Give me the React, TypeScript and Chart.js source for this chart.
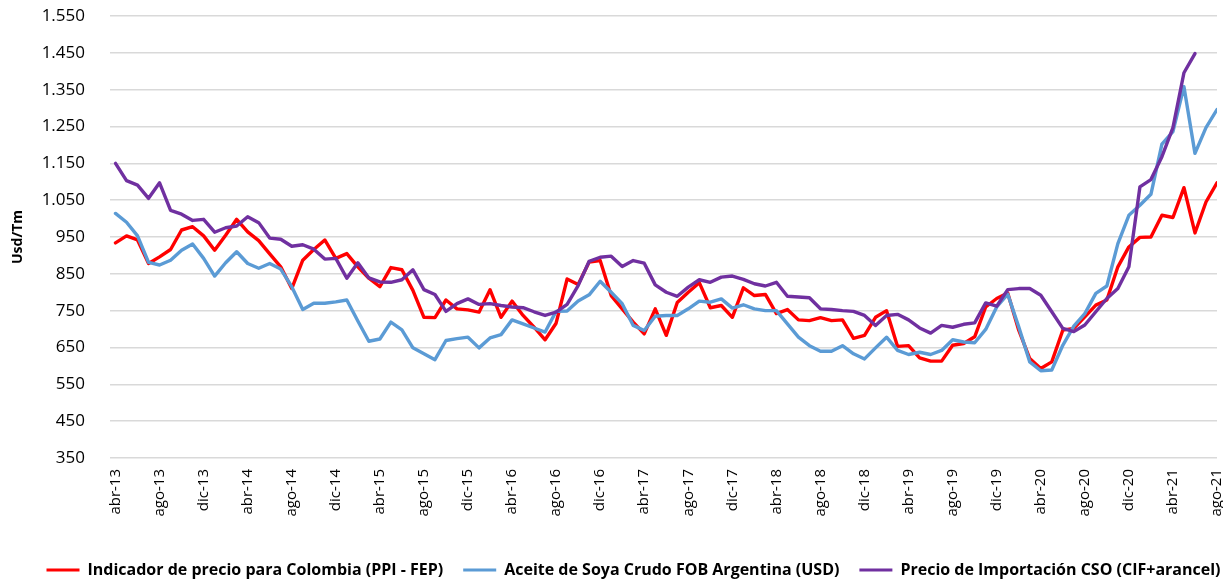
import React, { useEffect, useRef } from 'react';
import { Chart, registerables } from 'chart.js';

Chart.register(...registerables);

// ---- Categories (months abr-13 .. ago-21) ----
const MONTH_NAMES = ['ene', 'feb', 'mar', 'abr', 'may', 'jun', 'jul', 'ago', 'sep', 'oct', 'nov', 'dic'];
const START_YEAR = 2013;
const START_MONTH_INDEX = 3; // abr
const MONTH_COUNT = 101;
const monthLabels: string[] = [];
for (let k = 0; k < MONTH_COUNT; k++) {
  const m = (START_MONTH_INDEX + k) % 12;
  const y = START_YEAR + Math.floor((START_MONTH_INDEX + k) / 12);
  monthLabels.push(`${MONTH_NAMES[m]}-${String(y % 100).padStart(2, '0')}`);
}
// x tick labels shown every 4 months
const xTickIndices = [0, 4, 8, 12, 16, 20, 24, 28, 32, 36, 40, 44, 48, 52, 56, 60, 64, 68, 72, 76, 80, 84, 88, 92, 96, 100];

// ---- Y axis ticks ----
const Y_MIN = 350;
const Y_MAX = 1550;
const Y_STEP = 100;

// ---- Series values (Usd/Tm) ----
const ppiFep = [
  934, 953, 942, 878, 896, 916, 969, 978, 953, 914, 955, 998, 964, 940, 904, 869, 810, 887, 916, 942,
  892, 905, 869, 838, 815, 867, 861, 805, 732, 731, 779, 755, 752, 746, 807, 732, 776, 737, 705, 671,
  716, 836, 821, 882, 886, 791, 755, 719, 687, 755, 683, 772, 800, 826, 758, 764, 732, 812, 791, 794,
  742, 753, 725, 723, 731, 723, 725, 675, 683, 732, 750, 653, 655, 622, 613, 613, 656, 661, 679, 760,
  783, 798, 697, 620, 593, 611, 697, 702, 733, 765, 779, 869, 923, 949, 950, 1009, 1003, 1084, 961, 1045,
  1097,
];

const fobArgentina = [
  1014, 990, 953, 881, 874, 887, 914, 931, 892, 844, 880, 910, 878, 865, 878, 863, 815, 753, 770, 770,
  774, 779, 722, 667, 673, 719, 698, 649, 633, 617, 669, 674, 678, 649, 676, 685, 725, 714, 703, 692,
  748, 749, 776, 793, 830, 800, 769, 710, 696, 735, 737, 737, 755, 776, 773, 782, 757, 766, 755, 750,
  750, 714, 678, 655, 640, 640, 655, 633, 619, 649, 678, 642, 631, 637, 631, 642, 671, 665, 663, 699,
  760, 795, 706, 611, 587, 589, 656, 708, 742, 797, 817, 932, 1009, 1036, 1066, 1202, 1236, 1358, 1177, 1247,
  1296,
];

const importacionCso = [
  1150, 1103, 1091, 1055, 1097, 1022, 1012, 995, 998, 963, 975, 980, 1005, 989, 947, 944, 925, 929, 917, 890,
  892, 838, 880, 839, 828, 827, 834, 861, 807, 794, 748, 769, 782, 767, 769, 764, 760, 758, 747, 737,
  746, 767, 818, 884, 895, 898, 870, 886, 879, 820, 800, 789, 814, 834, 827, 841, 844, 835, 823, 817,
  827, 789, 787, 785, 755, 753, 750, 748, 737, 710, 737, 740, 725, 703, 689, 710, 705, 713, 717, 771,
  762, 807, 810, 810, 792, 747, 702, 693, 711, 747, 783, 810, 869, 1086, 1106, 1168, 1247, 1396, 1448,
];

const seriesNames = [
  'Indicador de precio para Colombia (PPI - FEP)',
  'Aceite de Soya Crudo FOB Argentina (USD)',
  'Precio de Importación CSO (CIF+arancel)',
];
const seriesColors = ['#FF0000', '#5B9BD5', '#7030A0'];

const FONT = "'Open Sans', sans-serif";

function fmtThousands(v: number): string {
  const n = Math.round(v);
  if (n >= 1000) return `${Math.floor(n / 1000)}.${String(n % 1000).padStart(3, '0')}`;
  return String(n);
}

// Shift the centred legend row a little to the right (as in the original, whose last entry runs off the edge)
const legendShiftPlugin = {
  id: 'legendShift',
  afterLayout(chart: any) {
    if (chart.legend) chart.legend.right += 50;
  },
};

export default function App() {
  const canvasRef = useRef<HTMLCanvasElement | null>(null);

  useEffect(() => {
    if (!canvasRef.current) return;
    const allSeries = [ppiFep, fobArgentina, importacionCso];
    const chart = new Chart(canvasRef.current, {
      type: 'line',
      data: {
        datasets: allSeries.map((s, idx) => ({
          label: seriesNames[idx],
          data: s.map((y, i) => ({ x: i, y })),
          borderColor: seriesColors[idx],
          backgroundColor: seriesColors[idx],
          borderWidth: 3.4,
          pointRadius: 0,
          pointHoverRadius: 0,
          tension: 0,
          fill: false,
          borderJoinStyle: 'round',
          borderCapStyle: 'round',
          order: 3 - idx,
        })),
      },
      plugins: [legendShiftPlugin],
      options: {
        responsive: false,
        animation: false,
        events: [],
        layout: { padding: { left: 0, right: 6, top: 16, bottom: -5 } },
        plugins: {
          legend: {
            position: 'bottom',
            labels: {
              color: '#000',
              font: { family: FONT, size: 16, weight: 'bold' },
              boxWidth: 33,
              boxHeight: 3,
              padding: 20,
              sort: (a: any, b: any) => a.datasetIndex - b.datasetIndex,
              generateLabels: (ch: any) =>
                (Chart.defaults.plugins.legend.labels.generateLabels as any)(ch).map((l: any) => ({
                  ...l,
                  lineWidth: 0,
                  fillStyle: seriesColors[l.datasetIndex],
                })),
            },
          },
          tooltip: { enabled: false },
        },
        scales: {
          x: {
            type: 'linear',
            min: -0.5,
            max: MONTH_COUNT - 1,
            grid: { display: false },
            border: { display: false },
            afterBuildTicks: (scale: any) => {
              scale.ticks = xTickIndices.map((v) => ({ value: v }));
            },
            afterFit: (scale: any) => {
              scale.height = 84;
              scale.paddingLeft = 0;
              scale.paddingRight = 0;
            },
            ticks: {
              autoSkip: false,
              minRotation: 90,
              maxRotation: 90,
              padding: 3,
              color: '#000',
              font: { family: FONT, size: 15 },
              callback: (v: any) => monthLabels[v as number] ?? '',
            },
          },
          y: {
            min: Y_MIN,
            max: Y_MAX,
            afterFit: (scale: any) => {
              scale.width = 110;
              scale.paddingTop = 0;
              scale.paddingBottom = 0;
            },
            grid: { color: '#d9d9d9', lineWidth: 1.5, drawTicks: false },
            border: { display: false },
            ticks: {
              stepSize: Y_STEP,
              padding: 25,
              color: '#000',
              font: { family: FONT, size: 17 },
              callback: (v: any) => fmtThousands(v as number),
            },
            title: {
              display: true,
              text: 'Usd/Tm',
              color: '#000',
              font: { family: FONT, size: 14, weight: 'bold' },
              padding: { top: 10, bottom: 0 },
            },
          },
        },
      },
    } as any);
    return () => chart.destroy();
  }, []);

  return (
    <div style={{ position: 'absolute', left: 0, top: 0, width: 1223, height: 583, background: '#fff', overflow: 'hidden' }}>
      <canvas ref={canvasRef} width={1223} height={583} style={{ display: 'block' }} />
    </div>
  );
}
